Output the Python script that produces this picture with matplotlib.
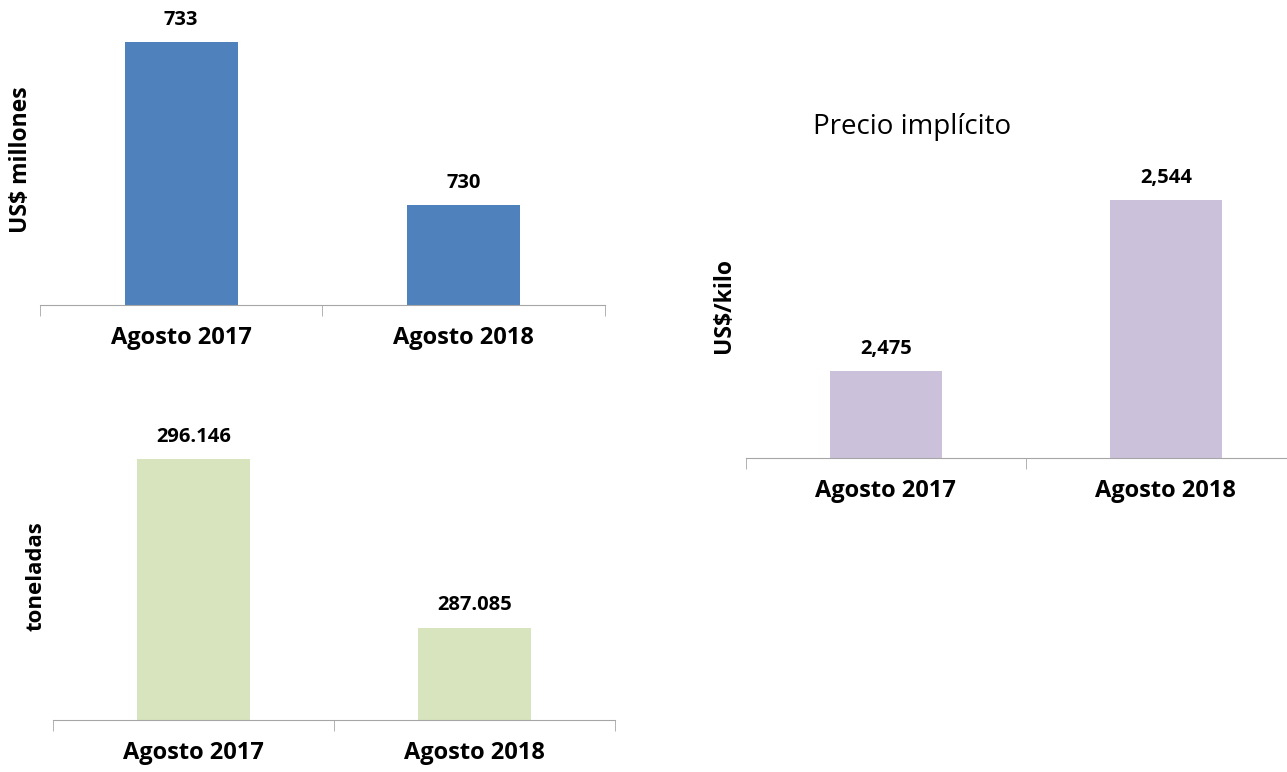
import matplotlib.pyplot as plt

categories = ["Agosto 2017", "Agosto 2018"]
usd_millones = [733, 730]
toneladas = [296.146, 287.085]
precio_kilo = [2.475, 2.544]

labels_usd = ["733", "730"]
labels_ton = ["296.146", "287.085"]
labels_precio = ["2,475", "2,544"]

plt.rcParams['font.family'] = ['Open Sans', 'DejaVu Sans']

fig = plt.figure(figsize=(12.87, 7.72), dpi=100)


def bar_panel(rect, values, labels, color, ylim, ylabel, ylabel_size, ylabel_xy):
    ax = fig.add_axes(rect)
    x = range(len(values))
    ax.bar(x, values, width=0.4, color=color)
    ax.set_xlim(-0.5, 1.5)
    ax.set_ylim(*ylim)
    for s in ['top', 'right', 'left']:
        ax.spines[s].set_visible(False)
    ax.spines['bottom'].set_color('#a6a6a6')
    ax.set_yticks([])
    ax.set_xticks(list(x))
    ax.set_xticklabels(categories, fontsize=17, fontweight='bold')
    ax.tick_params(axis='x', which='major', length=0, pad=15)
    ax.set_xticks([-0.5, 0.5, 1.5], minor=True)
    ax.tick_params(axis='x', which='minor', length=8, color='#a6a6a6')
    for xi, v, lab in zip(x, values, labels):
        ax.annotate(lab, (xi, v), xytext=(0, 9), textcoords='offset points',
                    ha='center', va='bottom', fontsize=14.5, fontweight='bold')
    ax.set_ylabel(ylabel, fontsize=ylabel_size, fontweight='bold')
    ax.yaxis.set_label_coords(*ylabel_xy)
    return ax


bar_panel([0.031, 0.605, 0.439, 0.369], usd_millones, labels_usd, '#4F81BD',
          (728.16, 733.41), "US$ millones", 16.5, (-0.012, 0.51))
bar_panel([0.0412, 0.0674, 0.4367, 0.3627], toneladas, labels_ton, '#D7E4BD',
          (282.152, 297.17), "toneladas", 16, (-0.012, 0.514))
bar_panel([0.5796, 0.4067, 0.435, 0.360], precio_kilo, labels_precio, '#CCC1DA',
          (2.4399, 2.5521), "US$/kilo", 16.5, (-0.018, 0.55))

fig.text(0.632, 0.836, "Precio implícito", fontsize=20, ha='left', va='center')

fig.savefig('out.png', dpi=100)
